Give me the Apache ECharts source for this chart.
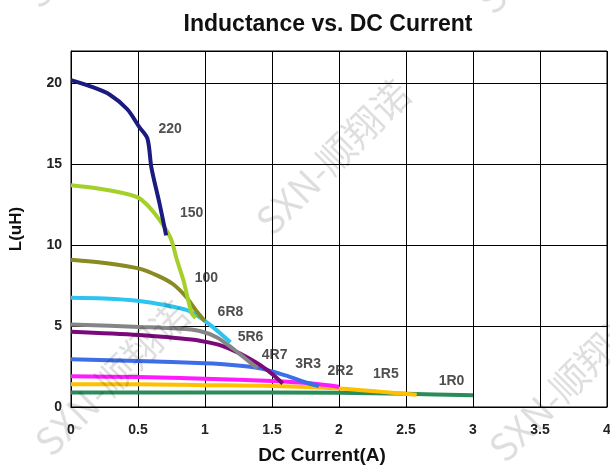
<!DOCTYPE html>
<html>
<head>
<meta charset="utf-8">
<script src="https://cdn.jsdelivr.net/npm/echarts@6/dist/echarts.min.js"></script>
<style>
  html, body { margin: 0; padding: 0; background: #fff; }
  #chart { width: 610px; height: 471px; }
</style>
</head>
<body>
<div id="chart"></div>
<script>
// inductance (uH) vs DC current (A)
const partNames = ['220', '150', '100', '6R8', '5R6', '4R7', '3R3', '2R2', '1R5', '1R0']
const partColors = ['#1a1a80', '#a4d02a', '#8a8a22', '#2ec4ef', '#858585', '#7a0a7a', '#3d6ee8', '#ff1aff', '#ffc000', '#2a8c5a']

const curve220 = [[0, 20.2], [0.15, 19.8], [0.29, 19.3], [0.42, 18.4], [0.51, 17.3], [0.57, 16.6], [0.6, 14.8], [0.66, 12.6], [0.71, 10.6]]
const curve150 = [[0, 13.7], [0.2, 13.5], [0.4, 13.2], [0.51, 12.9], [0.62, 12.0], [0.74, 10.5], [0.79, 9.1], [0.84, 7.8], [0.9, 5.8], [0.93, 5.5]]
const curve100 = [[0, 9.1], [0.25, 8.9], [0.51, 8.55], [0.65, 8.1], [0.76, 7.6], [0.86, 6.8], [0.93, 6.0], [1.0, 5.3]]
const curve6R8 = [[0, 6.75], [0.25, 6.7], [0.51, 6.55], [0.7, 6.3], [0.86, 6.0], [0.95, 5.6], [1.05, 5.0], [1.19, 4.0]]
const curve5R6 = [[0, 5.1], [0.51, 4.95], [0.8, 4.85], [0.96, 4.7], [1.09, 4.3], [1.21, 3.6], [1.3, 3.0], [1.39, 2.4]]
const curve4R7 = [[0, 4.65], [0.51, 4.45], [0.8, 4.25], [0.96, 4.1], [1.1, 3.85], [1.21, 3.5], [1.32, 3.05], [1.41, 2.6], [1.5, 2.05], [1.58, 1.45]]
const curve3R3 = [[0, 2.95], [0.5, 2.85], [1.0, 2.7], [1.2, 2.6], [1.41, 2.4], [1.6, 1.95], [1.76, 1.5], [1.85, 1.3]]
const curve2R2 = [[0, 1.9], [0.5, 1.85], [1.0, 1.75], [1.5, 1.6], [1.8, 1.45], [2.0, 1.25]]
const curve1R5 = [[0, 1.4], [0.5, 1.4], [1.0, 1.35], [1.5, 1.3], [2.0, 1.15], [2.3, 0.95], [2.58, 0.75]]
const curve1R0 = [[0, 0.9], [1.0, 0.9], [2.0, 0.88], [2.5, 0.82], [3.0, 0.72]]
const curves = [curve220, curve150, curve100, curve6R8, curve5R6, curve4R7, curve3R3, curve2R2, curve1R5, curve1R0]

// where each part number is written on the plot (data coords)
const labelAt = [[0.74, 17.2], [0.9, 12.0], [1.01, 7.95], [1.19, 5.85], [1.34, 4.3], [1.52, 3.2], [1.77, 2.65], [2.01, 2.2], [2.35, 2.0], [2.84, 1.6]]

const xTicks = [0, 0.5, 1, 1.5, 2, 2.5, 3, 3.5, 4]
const yTicks = [0, 5, 10, 15, 20]

const chart = echarts.init(document.getElementById('chart'))
const FONT = '"Liberation Sans", Arial, sans-serif'

const lineSeries = curves.map((pts, i) => ({
  name: partNames[i],
  type: 'line',
  data: pts,
  smooth: 0.3,
  showSymbol: false,
  silent: true,
  lineStyle: { color: partColors[i], width: 4 },
  z: 3 + (curves.length - i),
}))

// SXN watermark, tiled diagonally like the source image
const wmCenters = [[112, 378], [333, 157], [566, 384], [554, -64], [100, -70]]
const watermarks = wmCenters.map(([x, y]) => ({
  type: 'text',
  x, y,
  rotation: Math.PI / 4,
  z: 100,
  style: {
    text: 'SXN-顺翔诺',
    font: '38px "Noto Sans CJK SC", sans-serif',
    fill: 'rgba(0,0,0,0.13)',
    align: 'center',
    verticalAlign: 'middle',
  },
}))

chart.setOption({
  animation: false,
  title: {
    text: 'Inductance vs. DC Current',
    left: 323, top: 8, textAlign: 'center',
    textStyle: { fontFamily: FONT, fontSize: 23, fontWeight: 'bold', color: '#111' },
  },
  grid: {
    left: 71, right: 3, top: 51, bottom: 64,
    outerBoundsMode: 'none',
    show: true, borderColor: '#000', borderWidth: 1,
  },
  xAxis: {
    type: 'value', min: 0, max: 4, interval: 0.5,
    name: 'DC Current(A)', nameLocation: 'middle', nameGap: 39,
    nameTextStyle: { fontFamily: FONT, fontSize: 19, fontWeight: 'bold', color: '#111', padding: [0, 34, 0, 0] },
    axisLine: { lineStyle: { color: '#000' } },
    axisTick: { show: false },
    axisLabel: {
      margin: 16, fontFamily: FONT, fontSize: 14, fontWeight: 'bold', color: '#222',
      formatter: v => xTicks.includes(v) ? String(v) : '',
    },
    splitLine: { lineStyle: { color: '#000', width: 1 } },
  },
  yAxis: {
    type: 'value', min: 0, max: 22, interval: 5,
    name: 'L(uH)', nameLocation: 'middle', nameGap: 46, nameRotate: 90,
    nameTextStyle: { fontFamily: FONT, fontSize: 17, fontWeight: 'bold', color: '#111' },
    axisLine: { show: true, lineStyle: { color: '#000' } },
    axisTick: { show: false },
    axisLabel: {
      margin: 9, fontFamily: FONT, fontSize: 14, fontWeight: 'bold', color: '#222',
      formatter: v => yTicks.includes(v) ? String(v) : '',
    },
    splitLine: { lineStyle: { color: '#000', width: 1 } },
  },
  series: [
    ...lineSeries,
    {
      type: 'scatter',
      symbolSize: 0,
      silent: true,
      z: 20,
      data: labelAt.map((p, i) => ({ value: p, name: partNames[i] })),
      label: {
        show: true, position: 'inside', formatter: '{b}',
        fontFamily: FONT, fontSize: 14, fontWeight: 'bold', color: '#222',
      },
    },
  ],
  graphic: watermarks,
})
</script>
</body>
</html>
